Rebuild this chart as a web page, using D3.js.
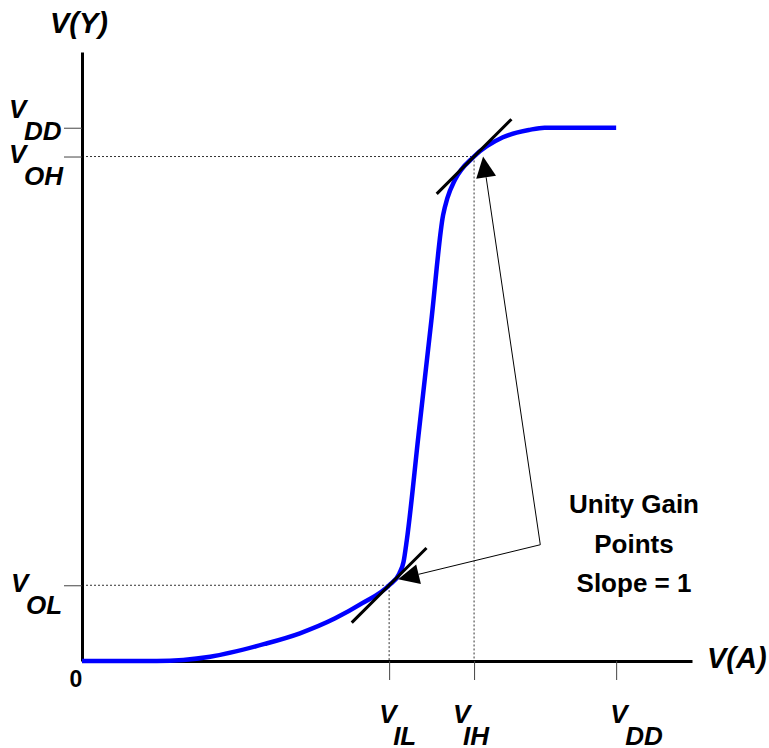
<!DOCTYPE html>
<html>
<head>
<meta charset="utf-8">
<script src="https://cdn.jsdelivr.net/npm/d3@7/dist/d3.min.js"></script>
<style>
  body { margin: 0; background: #fff; }
  text { font-family: "Liberation Sans", Arial, sans-serif; font-weight: bold; }
</style>
</head>
<body>
<div class="chart"></div>
<script>
/* global d3 */
const svgWidth = 769;
const svgHeight = 748;

// transfer curve, V(A) -> V(Y), VDD = 5
const vinValues  = [0, 0.70, 1.20, 1.71, 2.04, 2.37, 2.62, 2.875, 2.97, 3.01, 3.04, 3.15, 3.27, 3.38, 3.42, 3.49, 3.67, 3.94, 4.19, 4.33, 5.0];
const voutValues = [0, 0,    0.04, 0.16, 0.26, 0.40, 0.54, 0.71,  0.82, 0.93, 1.13, 2.12, 3.19, 4.18, 4.34, 4.51, 4.73, 4.91, 4.98, 5.0,  5.0];

const VDD = 5, VIL = 2.875, VIH = 3.67, VOL = 0.71, VOH = 4.73;
const xTickValues = [VIL, VIH, VDD];
const xTickSubs = ["IL", "IH", "DD"];
const yTickValues = [VDD, VOH, VOL];
const yTickSubs = ["DD", "OH", "OL"];
const unityPoints = [[VIL, VOL], [VIH, VOH]];
const calloutPoint = [4.29, 1.09];
const calloutText = ["Unity Gain", "Points", "Slope = 1"];

const x = d3.scaleLinear().domain([0, 5.71]).range([82, 692]);
const y = d3.scaleLinear().domain([0, 5.71]).range([661, 52]);

let svg = d3.select(".chart").append("svg")
    .attr("width", svgWidth)
    .attr("height", svgHeight);

// dotted guides
unityPoints.forEach(p => {
    svg.append("path")
        .attr("d", `M${x(0)},${y(p[1])}H${x(p[0])}V${y(0)}`)
        .attr("fill", "none")
        .attr("stroke", "#333")
        .attr("stroke-width", 1)
        .attr("stroke-dasharray", "2,2");
});

// axes
const xAxis = svg.append("g")
    .attr("transform", `translate(0,${y(0)})`)
    .call(d3.axisBottom(x).tickValues(xTickValues).tickSize(19).tickSizeOuter(0).tickFormat(""));
const yAxis = svg.append("g")
    .attr("transform", `translate(${x(0)},0)`)
    .call(d3.axisLeft(y).tickValues(yTickValues).tickSize(18).tickSizeOuter(0).tickFormat(""));
[xAxis, yAxis].forEach(a => {
    a.select(".domain").attr("stroke", "#000").attr("stroke-width", 3);
    a.selectAll(".tick line").attr("stroke", "#444").attr("stroke-width", 1);
});

// curve
const line = d3.line()
    .x((d, i) => x(vinValues[i]))
    .y(d => y(d))
    .curve(d3.curveMonotoneX);
svg.append("path")
    .attr("d", line(voutValues))
    .attr("fill", "none")
    .attr("stroke", "#0000ff")
    .attr("stroke-width", 4.5)
    .attr("stroke-linejoin", "round");

// slope = 1 tangents
unityPoints.forEach(p => {
    svg.append("line")
        .attr("x1", x(p[0] - 0.35)).attr("y1", y(p[1] - 0.35))
        .attr("x2", x(p[0] + 0.35)).attr("y2", y(p[1] + 0.35))
        .attr("stroke", "#000")
        .attr("stroke-width", 3);
});

// callout arrows
const tipOffsets = [[9, -6], [9, 0]];
const sx = x(calloutPoint[0]), sy = y(calloutPoint[1]);
unityPoints.forEach((p, i) => {
    const tx = x(p[0]) + tipOffsets[i][0], ty = y(p[1]) + tipOffsets[i][1];
    const len = Math.hypot(tx - sx, ty - sy);
    const ux = (tx - sx) / len, uy = (ty - sy) / len;
    const L = 21, W = 10;
    const bx = tx - L * ux, by = ty - L * uy;
    svg.append("line")
        .attr("x1", sx).attr("y1", sy).attr("x2", bx).attr("y2", by)
        .attr("stroke", "#000").attr("stroke-width", 1);
    svg.append("path")
        .attr("d", `M${tx},${ty}L${bx - W * uy},${by + W * ux}L${bx + W * uy},${by - W * ux}Z`)
        .attr("fill", "#000");
});

// callout text
svg.selectAll(".callout")
    .data(calloutText)
    .enter().append("text")
    .attr("class", "callout")
    .attr("x", 634)
    .attr("y", (d, i) => 513 + i * 39.5)
    .attr("text-anchor", "middle")
    .attr("font-size", 26)
    .text(d => d);

// axis titles
svg.append("text").attr("x", 50).attr("y", 33)
    .attr("font-size", 29).attr("font-style", "italic").text("V(Y)");
svg.append("text").attr("x", 707).attr("y", 668)
    .attr("font-size", 29).attr("font-style", "italic").text("V(A)");
svg.append("text").attr("x", 76).attr("y", 687)
    .attr("text-anchor", "middle").attr("font-size", 23).text("0");

// subscripted tick labels
function subLabel(vx, vy, sub, dsx, dsy) {
    svg.append("text").attr("x", vx).attr("y", vy)
        .attr("font-size", 26).attr("font-style", "italic").text("V");
    svg.append("text").attr("x", vx + dsx).attr("y", vy + dsy)
        .attr("font-size", 26).attr("font-style", "italic").text(sub);
}
const yLabelShift = [[9, -10], [9, 6], [11, 7]];
yTickValues.forEach((v, i) => subLabel(yLabelShift[i][0], y(v) + yLabelShift[i][1], yTickSubs[i], 15, 22));
const xLabelShift = [[-10, 14], [-21, 10], [-6, 15]];
xTickValues.forEach((v, i) => subLabel(x(v) + xLabelShift[i][0], 723, xTickSubs[i], xLabelShift[i][1], 22));
</script>
</body>
</html>
